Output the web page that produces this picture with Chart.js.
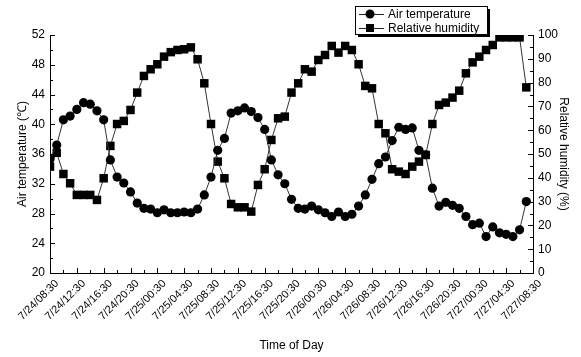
<!DOCTYPE html>
<html>
<head>
<meta charset="utf-8">
<script src="https://cdn.jsdelivr.net/npm/chart.js@4/dist/chart.umd.min.js"></script>
<style>
  html, body { margin: 0; padding: 0; background: #fff; }
  #wrap { width: 581px; height: 357px; }
</style>
</head>
<body>
<div id="wrap"><canvas id="chart"></canvas></div>
<script>
// tick labels, one every 4 hours starting 7/24 08:30
const timeLabels = [
    '7/24/08:30', '7/24/12:30', '7/24/16:30', '7/24/20:30',
    '7/25/00:30', '7/25/04:30', '7/25/08:30', '7/25/12:30', '7/25/16:30', '7/25/20:30',
    '7/26/00:30', '7/26/04:30', '7/26/08:30', '7/26/12:30', '7/26/16:30', '7/26/20:30',
    '7/27/00:30', '7/27/04:30', '7/27/08:30'
];

// hourly readings, hour 0 = 7/24 08:30
const airTemp = [
    35.3, 37.2, 40.6, 41.1, 42.0, 42.9, 42.7, 41.8, 40.6, 35.2,
    32.9, 32.1, 30.9, 29.4, 28.7, 28.6, 28.1, 28.5, 28.1, 28.1,
    28.2, 28.1, 28.6, 30.5, 32.9, 36.5, 38.1, 41.5, 41.8, 42.2,
    41.7, 40.9, 39.3, 35.2, 33.2, 32.0, 29.9, 28.7, 28.6, 29.0,
    28.5, 28.1, 27.6, 28.2, 27.6, 27.9, 29.0, 30.5, 32.6, 34.7,
    35.6, 37.8, 39.6, 39.3, 39.5, 36.5, 35.9, 31.4, 29.0, 29.5,
    29.1, 28.7, 27.6, 26.5, 26.7, 24.9, 26.2, 25.4, 25.2, 24.9,
    25.8, 29.6
];

const relHumidity = [
    44.7, 50.5, 41.6, 37.7, 32.8, 32.8, 32.8, 30.7, 39.8, 53.4,
    62.6, 63.9, 68.5, 75.8, 82.8, 85.6, 87.7, 90.9, 92.8, 93.7,
    94.0, 94.8, 89.8, 79.7, 62.6, 46.8, 39.8, 29.0, 27.6, 27.6,
    25.8, 37.0, 43.6, 55.9, 65.0, 65.7, 75.8, 79.7, 85.6, 84.6,
    89.5, 91.6, 95.4, 92.6, 95.4, 93.7, 87.7, 78.6, 77.6, 62.6,
    58.7, 43.6, 42.6, 41.6, 44.7, 46.8, 49.6, 62.6, 70.6, 71.6,
    73.7, 76.6, 83.9, 88.5, 90.9, 93.7, 95.8, 99.0, 99.0, 99.0,
    99.0, 78.0
];

const FONT = 'Liberation Sans, Arial, sans-serif';

// Origin style ticks pointing into the plot
const inwardTicks = {
    id: 'inwardTicks',
    afterDraw(chart) {
        const ctx = chart.ctx;
        const a = chart.chartArea;
        ctx.save();
        ctx.strokeStyle = '#000';
        ctx.lineWidth = 1;
        ctx.beginPath();
        const sx = chart.scales.x;
        for (let v = 0; v <= 72; v += 2) {
            const px = Math.round(sx.getPixelForValue(v)) + 0.5;
            const len = v % 4 === 0 ? 5 : 3;
            ctx.moveTo(px, a.bottom);
            ctx.lineTo(px, a.bottom - len);
        }
        const sy = chart.scales.y;
        for (let v = 20; v <= 52; v += 2) {
            const py = Math.round(sy.getPixelForValue(v)) + 0.5;
            const len = v % 4 === 0 ? 5 : 3;
            ctx.moveTo(a.left, py);
            ctx.lineTo(a.left + len, py);
        }
        const sy1 = chart.scales.y1;
        for (let v = 0; v <= 100; v += 5) {
            const py = Math.round(sy1.getPixelForValue(v)) + 0.5;
            const len = v % 10 === 0 ? 5 : 3;
            ctx.moveTo(a.right, py);
            ctx.lineTo(a.right - len, py);
        }
        ctx.stroke();
        ctx.restore();
    }
};

const boxLegend = {
    id: 'boxLegend',
    afterDraw(chart) {
        const ctx = chart.ctx;
        const x = 355, y = 6, w = 132, h = 28;
        ctx.save();
        ctx.fillStyle = '#000';
        ctx.fillRect(x + 3, y + 3, w, h);
        ctx.fillStyle = '#fff';
        ctx.fillRect(x, y, w, h);
        ctx.strokeStyle = '#000';
        ctx.lineWidth = 1;
        ctx.strokeRect(x + 0.5, y + 0.5, w, h);

        const rows = [['Air temperature', 'circle', 14], ['Relative humidity', 'rect', 28]];
        rows.forEach(([label, shape, ry]) => {
            ctx.strokeStyle = '#222';
            ctx.beginPath();
            ctx.moveTo(359, ry + 0.5);
            ctx.lineTo(384, ry + 0.5);
            ctx.stroke();
            ctx.fillStyle = '#000';
            if (shape === 'circle') {
                ctx.beginPath();
                ctx.arc(370, ry, 4.5, 0, Math.PI * 2);
                ctx.fill();
            } else {
                ctx.fillRect(366, ry - 4, 8, 8);
            }
            ctx.font = '12px ' + FONT;
            ctx.textBaseline = 'middle';
            ctx.fillText(label, 388, ry + 1);
        });
        ctx.restore();
    }
};

const ctx = document.getElementById('chart').getContext('2d');
new Chart(ctx, {
    type: 'line',
    data: {
        datasets: [
            {
                label: 'Air temperature',
                data: airTemp.map((v, i) => ({ x: i, y: v })),
                yAxisID: 'y',
                borderColor: '#333',
                borderWidth: 1,
                pointStyle: 'circle',
                pointRadius: 4.6,
                pointBackgroundColor: '#000',
                pointBorderColor: '#000',
                pointBorderWidth: 0,
                tension: 0
            },
            {
                label: 'Relative humidity',
                data: relHumidity.map((v, i) => ({ x: i, y: v })),
                yAxisID: 'y1',
                borderColor: '#333',
                borderWidth: 1,
                pointStyle: 'rect',
                pointRadius: 6,
                pointBackgroundColor: '#000',
                pointBorderColor: '#000',
                pointBorderWidth: 0,
                tension: 0
            }
        ]
    },
    options: {
        responsive: true,
        maintainAspectRatio: false,
        animation: false,
        events: [],
        layout: { padding: { top: 35, left: 0, right: 0, bottom: 0 } },
        plugins: {
            legend: { display: false },
            tooltip: { enabled: false }
        },
        scales: {
            x: {
                type: 'linear',
                min: 0,
                max: 72,
                afterFit: s => { s.height = 84; },
                grid: { display: false, drawTicks: false },
                border: { display: true, color: '#000', width: 1 },
                ticks: {
                    stepSize: 4,
                    autoSkip: false,
                    minRotation: 45,
                    maxRotation: 45,
                    padding: 4,
                    labelOffset: 7,
                    color: '#000',
                    font: { family: FONT, size: 11 },
                    callback: v => timeLabels[v / 4]
                },
                title: {
                    display: true,
                    text: 'Time of Day',
                    color: '#000',
                    font: { family: FONT, size: 12 },
                    padding: { top: 4, bottom: 4 }
                }
            },
            y: {
                position: 'left',
                min: 20,
                max: 52,
                afterFit: s => { s.width = 50; },
                grid: { display: false, drawTicks: false },
                border: { display: true, color: '#000', width: 1 },
                ticks: {
                    stepSize: 4,
                    padding: 5,
                    color: '#000',
                    font: { family: FONT, size: 12 }
                },
                title: {
                    display: true,
                    text: 'Air temperature (℃)',
                    color: '#000',
                    font: { family: FONT, size: 12 },
                    padding: { top: 15, bottom: 0 }
                }
            },
            y1: {
                position: 'right',
                min: 0,
                max: 100,
                afterFit: s => { s.width = 48; },
                grid: { display: false, drawTicks: false },
                border: { display: true, color: '#000', width: 1 },
                ticks: {
                    stepSize: 10,
                    padding: 5,
                    color: '#000',
                    font: { family: FONT, size: 12 }
                },
                title: {
                    display: true,
                    text: 'Relative humidity (%)',
                    color: '#000',
                    font: { family: FONT, size: 12 },
                    padding: { top: 10, bottom: 0 }
                }
            }
        }
    },
    plugins: [inwardTicks, boxLegend]
});
</script>
</body>
</html>
